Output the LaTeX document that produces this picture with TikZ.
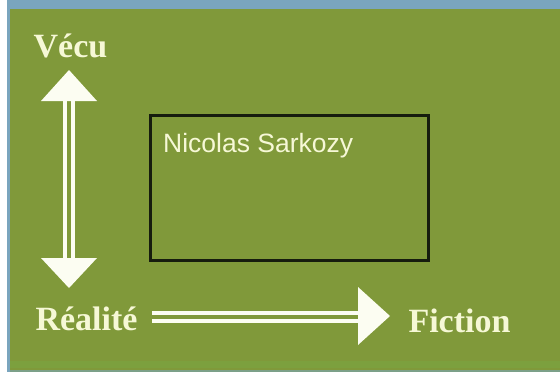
\documentclass[tikz,border=0pt]{standalone}
\usepackage{fontspec}
\setmainfont{Liberation Serif}
\newfontfamily\labelsans{Liberation Sans}
\definecolor{bggreen}{RGB}{128,153,58}
\definecolor{bandgreen}{RGB}{124,160,62}
\definecolor{edgeblue}{RGB}{122,165,190}
\definecolor{creamtxt}{RGB}{246,248,214}
\definecolor{arrowwhite}{RGB}{252,253,242}
\definecolor{boxline}{RGB}{22,28,14}
\tikzset{
  axislabel/.style={anchor=base, inner sep=0pt, text=creamtxt,
    font=\fontsize{34}{34}\selectfont\bfseries},
  namelabel/.style={anchor=base west, inner sep=0pt, text=creamtxt,
    font=\labelsans\fontsize{26.5}{26.5}\selectfont},
  shaft/.style={draw=arrowwhite, line width=4pt, double=bggreen, double distance=4pt},
  head/.style={fill=arrowwhite},
  framebox/.style={draw=boxline, line width=3pt}
}
\begin{document}
\begin{tikzpicture}[x=1pt,y=-1pt]
\useasboundingbox (0,0) rectangle (560,372);
\fill[white] (0,0) rectangle (560,372);
\fill[edgeblue] (7,0) rectangle (560,372);
\fill[bggreen] (10,9) rectangle (560,372);
\fill[bandgreen] (10,361) rectangle (560,368);
\fill[edgeblue!60!bggreen] (10,370) rectangle (560,372);
% labels
\node[axislabel] (vecu) at (70.5,57) {Vécu};
\node[axislabel] (realite) at (86.5,330) {Réalité};
\node[axislabel] (fiction) at (459.5,332) {Fiction};
% box
\draw[framebox] (150,115) rectangle (428,260);
\node[namelabel] (name) at (163,152) {Nicolas Sarkozy};
% vertical arrow
\coordinate (vtop) at (69,100);
\coordinate (vbot) at (69,259);
\draw[shaft] (vtop) -- (vbot);
\fill[head] (69,70) -- (41,101) -- (97,101) -- cycle;
\fill[head] (69,288) -- (41,258) -- (97,258) -- cycle;
% horizontal arrow
\coordinate (hstart) at (152,317);
\coordinate (hend) at (359,317);
\draw[shaft] (hstart) -- (hend);
\fill[head] (390,316) -- (358,287) -- (358,345) -- cycle;
\end{tikzpicture}
\end{document}
